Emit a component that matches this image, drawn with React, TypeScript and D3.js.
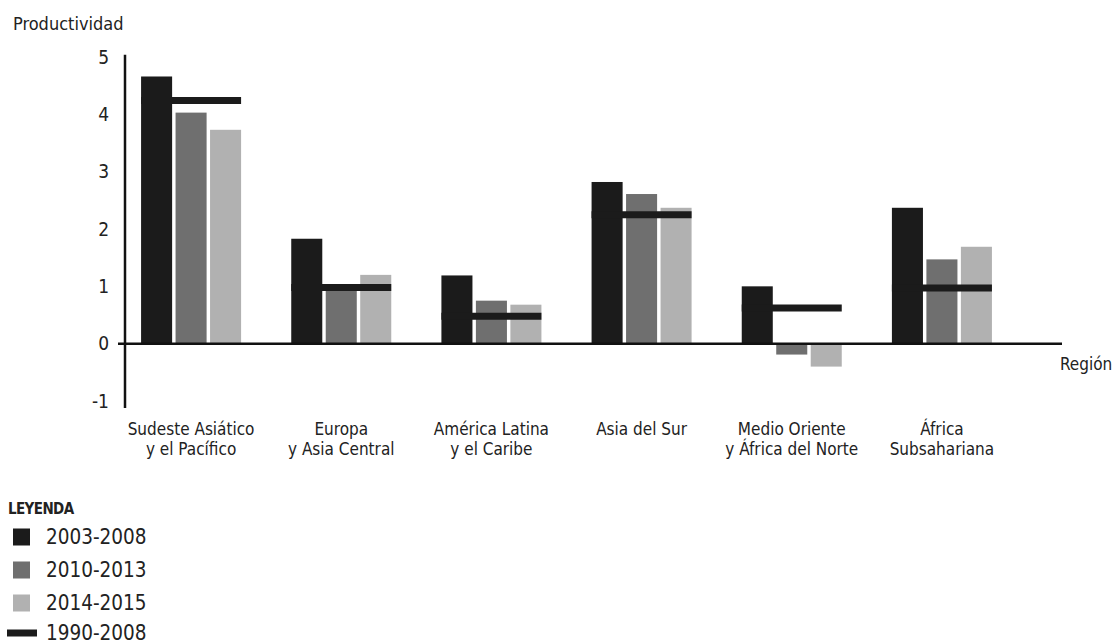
import * as d3 from 'd3';
import { useEffect } from 'react';

const regions = [
  ['Sudeste Asiático', 'y el Pacífico'],
  ['Europa', 'y Asia Central'],
  ['América Latina', 'y el Caribe'],
  ['Asia del Sur'],
  ['Medio Oriente', 'y África del Norte'],
  ['África', 'Subsahariana'],
];
const seriesNames = ['2003-2008', '2010-2013', '2014-2015'];
const seriesColors = ['#1b1b1b', '#6f6f6f', '#b1b1b1'];
const s2003_2008 = [4.66, 1.83, 1.19, 2.82, 1.0, 2.37];
const s2010_2013 = [4.03, 0.95, 0.75, 2.61, -0.19, 1.47];
const s2014_2015 = [3.73, 1.2, 0.68, 2.37, -0.4, 1.69];
const s1990_2008 = [4.24, 0.98, 0.48, 2.25, 0.62, 0.97];
const yTicks = [5, 4, 3, 2, 1, 0, -1];

const W = 1116;
const H = 644;
const FONT = "'DejaVu Sans Condensed', 'Liberation Sans Narrow', 'Roboto', sans-serif";
const INK = '#222';

export default function App() {
  useEffect(() => {
    document.body.style.margin = '0';
  }, []);

  const series = [s2003_2008, s2010_2013, s2014_2015];
  const idx = regions.map((_, i) => String(i));

  const x = d3.scaleBand<string>().domain(idx).range([116, 1017]).paddingInner(0.334).paddingOuter(0.167);
  const xInner = d3.scaleBand<string>().domain(['0', '1', '2']).range([0, x.bandwidth()]).paddingInner(0.1);
  const y = d3.scaleLinear().domain([5, -1]).range([57, 401]);
  const y0 = y(0);
  const cx = (i: number) => (x(String(i)) as number) + x.bandwidth() / 2;

  return (
    <svg width={W} height={H} style={{ display: 'block', fontFamily: FONT }}>
      <rect width={W} height={H} fill="#fff" />

      <text x={13} y={30} fontSize={18} fill={INK}>Productividad</text>

      {/* y ticks */}
      {yTicks.map(t => (
        <text key={t} x={109} y={y(t)} dy="0.35em" textAnchor="end" fontSize={19} fill={INK}>{t}</text>
      ))}

      {/* bars */}
      {regions.map((_, i) => (
        <g key={i} transform={`translate(${x(String(i))},0)`}>
          {series.map((s, k) => {
            const v = s[i];
            return (
              <rect key={k} x={xInner(String(k))} width={xInner.bandwidth()}
                y={Math.min(y(v), y0)} height={Math.abs(y(v) - y0)} fill={seriesColors[k]} />
            );
          })}
          <line x1={0} x2={x.bandwidth()} y1={y(s1990_2008[i])} y2={y(s1990_2008[i])}
            stroke="#1b1b1b" strokeWidth={7} />
        </g>
      ))}

      {/* axes */}
      <line x1={125} x2={125} y1={y(5.04)} y2={y(-1.12)} stroke="#111" strokeWidth={2.5} />
      <line x1={118} x2={1062} y1={y0} y2={y0} stroke="#111" strokeWidth={2.5} />
      <text x={1060} y={370} fontSize={17} fill={INK}>Región</text>

      {/* category labels */}
      {regions.map((lines, i) => (
        <text key={i} x={cx(i)} y={435} textAnchor="middle" fontSize={17} fill={INK}>
          {lines.map((l, j) => (
            <tspan key={j} x={cx(i)} dy={j === 0 ? 0 : 20}>{l}</tspan>
          ))}
        </text>
      ))}

      {/* legend */}
      <text x={8} y={514} fontSize={15} fontWeight="bold" fill={INK} letterSpacing={-0.6}>LEYENDA</text>
      {seriesNames.map((n, k) => (
        <g key={n} transform={`translate(0,${537 + k * 33})`}>
          <rect x={13} y={-8.5} width={17} height={17} fill={seriesColors[k]} />
          <text x={46} y={0} dy="0.35em" fontSize={20.5} fill={INK}>{n}</text>
        </g>
      ))}
      <g transform={`translate(0,${537 + 3 * 32})`}>
        <line x1={7} x2={37} y1={0} y2={0} stroke="#1b1b1b" strokeWidth={7} />
        <text x={46} y={0} dy="0.35em" fontSize={20.5} fill={INK}>1990-2008</text>
      </g>
    </svg>
  );
}
